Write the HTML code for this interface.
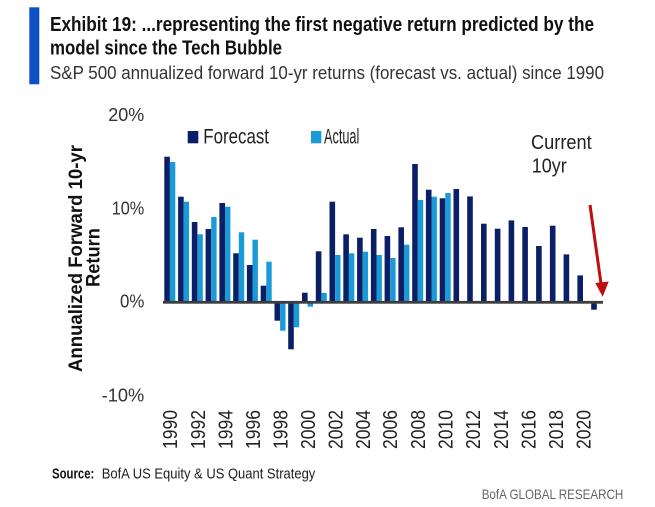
<!DOCTYPE html>
<html>
<head>
<meta charset="utf-8">
<style>
  html,body{margin:0;padding:0;background:#fff;}
  svg{display:block;}
  text{font-family:"Liberation Sans", Arial, sans-serif;}
</style>
</head>
<body>
<svg width="655" height="507" viewBox="0 0 655 507" xmlns="http://www.w3.org/2000/svg">
  <rect width="655" height="507" fill="#ffffff"/>

  <!-- Title block -->
  <rect x="29.3" y="7.3" width="10" height="77" fill="#0f4fc6"/>
  <text x="50" y="31" font-size="20" font-weight="bold" fill="#111" textLength="544" lengthAdjust="spacingAndGlyphs">Exhibit 19: ...representing the first negative return predicted by the</text>
  <text x="50" y="54.3" font-size="20" font-weight="bold" fill="#111" textLength="232" lengthAdjust="spacingAndGlyphs">model since the Tech Bubble</text>
  <text x="50" y="79" font-size="18.5" fill="#333" textLength="554" lengthAdjust="spacingAndGlyphs">S&amp;P 500 annualized forward 10-yr returns (forecast vs. actual) since 1990</text>

  <!-- Y tick labels -->
  <g font-size="18" fill="#333" text-anchor="end">
    <text x="144.3" y="121" textLength="36" lengthAdjust="spacingAndGlyphs">20%</text>
    <text x="144.3" y="214.5" textLength="32.6" lengthAdjust="spacingAndGlyphs">10%</text>
    <text x="144.3" y="307.7" textLength="24.3" lengthAdjust="spacingAndGlyphs">0%</text>
    <text x="144.3" y="401.7" textLength="42.6" lengthAdjust="spacingAndGlyphs">-10%</text>
  </g>

  <!-- Y axis title -->
  <text transform="translate(82,258.5) rotate(-90)" text-anchor="middle" font-size="19" font-weight="bold" fill="#111" textLength="227" lengthAdjust="spacingAndGlyphs">Annualized Forward 10-yr</text>
  <text transform="translate(99.5,257.5) rotate(-90)" text-anchor="middle" font-size="19" font-weight="bold" fill="#111" textLength="59" lengthAdjust="spacingAndGlyphs">Return</text>

  <!-- Legend -->
  <rect x="187.7" y="131" width="10.6" height="12.3" fill="#0b1f66"/>
  <text x="203.3" y="143.3" font-size="21" fill="#222" textLength="65.7" lengthAdjust="spacingAndGlyphs">Forecast</text>
  <rect x="311" y="131" width="10.3" height="12.3" fill="#1a9bd7"/>
  <text x="324" y="143.3" font-size="21" fill="#222" textLength="35.3" lengthAdjust="spacingAndGlyphs">Actual</text>

  <!-- Forecast bars -->
  <g fill="#0b1f66">
    <rect x="164.3" y="156.7" width="5.6" height="145.3"/>
    <rect x="178.1" y="196.7" width="5.6" height="105.3"/>
    <rect x="191.8" y="222" width="5.6" height="80"/>
    <rect x="205.6" y="229" width="5.6" height="73"/>
    <rect x="219.4" y="203" width="5.6" height="99"/>
    <rect x="233.2" y="253.3" width="5.6" height="48.7"/>
    <rect x="246.9" y="265" width="5.6" height="37"/>
    <rect x="260.7" y="285.7" width="5.6" height="16.3"/>
    <rect x="274.5" y="302" width="5.6" height="18.7"/>
    <rect x="288.2" y="302" width="5.6" height="47.3"/>
    <rect x="302" y="292.7" width="5.6" height="9.3"/>
    <rect x="315.8" y="251.3" width="5.6" height="50.7"/>
    <rect x="329.5" y="201.7" width="5.6" height="100.3"/>
    <rect x="343.3" y="234.3" width="5.6" height="67.7"/>
    <rect x="357.1" y="237.7" width="5.6" height="64.3"/>
    <rect x="370.9" y="229" width="5.6" height="73"/>
    <rect x="384.6" y="236" width="5.6" height="66"/>
    <rect x="398.4" y="227.3" width="5.6" height="74.7"/>
    <rect x="412.2" y="164" width="5.6" height="138"/>
    <rect x="425.9" y="189.7" width="5.6" height="112.3"/>
    <rect x="439.7" y="198.3" width="5.6" height="103.7"/>
    <rect x="453.5" y="189" width="5.6" height="113"/>
    <rect x="467.2" y="196.4" width="5.6" height="105.6"/>
    <rect x="481" y="223.7" width="5.6" height="78.3"/>
    <rect x="494.8" y="228.7" width="5.6" height="73.3"/>
    <rect x="508.6" y="220.4" width="5.6" height="81.6"/>
    <rect x="522.3" y="227" width="5.6" height="75"/>
    <rect x="536.1" y="246" width="5.6" height="56"/>
    <rect x="549.9" y="225.7" width="5.6" height="76.3"/>
    <rect x="563.6" y="254.4" width="5.6" height="47.6"/>
    <rect x="577.4" y="275.4" width="5.6" height="26.6"/>
    <rect x="591.2" y="302" width="5.6" height="7.7"/>
  </g>

  <!-- Actual bars -->
  <g fill="#1a9bd7">
    <rect x="169.9" y="162" width="5.4" height="140"/>
    <rect x="183.7" y="201.7" width="5.4" height="100.3"/>
    <rect x="197.4" y="234.3" width="5.4" height="67.7"/>
    <rect x="211.2" y="217" width="5.4" height="85"/>
    <rect x="225" y="206.7" width="5.4" height="95.3"/>
    <rect x="238.8" y="232.3" width="5.4" height="69.7"/>
    <rect x="252.5" y="239.7" width="5.4" height="62.3"/>
    <rect x="266.3" y="261.7" width="5.4" height="40.3"/>
    <rect x="280.1" y="302" width="5.4" height="28.7"/>
    <rect x="293.8" y="302" width="5.4" height="25.3"/>
    <rect x="307.6" y="302" width="5.4" height="4.7"/>
    <rect x="321.4" y="293" width="5.4" height="9"/>
    <rect x="335.1" y="255" width="5.4" height="47"/>
    <rect x="348.9" y="253.3" width="5.4" height="48.7"/>
    <rect x="362.7" y="251.7" width="5.4" height="50.3"/>
    <rect x="376.5" y="255" width="5.4" height="47"/>
    <rect x="390.2" y="258" width="5.4" height="44"/>
    <rect x="404" y="244.7" width="5.4" height="57.3"/>
    <rect x="417.8" y="200" width="5.4" height="102"/>
    <rect x="431.5" y="196.7" width="5.4" height="105.3"/>
    <rect x="445.3" y="193" width="5.4" height="109"/>
  </g>

  <!-- Zero line -->
  <rect x="163" y="300.9" width="440" height="2.8" fill="#3d3d3d"/>

  <!-- X labels -->
  <g font-size="20" fill="#222" text-anchor="end">
    <text transform="translate(177,410) rotate(-90)" textLength="39" lengthAdjust="spacingAndGlyphs">1990</text>
    <text transform="translate(204.8,410) rotate(-90)" textLength="39" lengthAdjust="spacingAndGlyphs">1992</text>
    <text transform="translate(232.4,410) rotate(-90)" textLength="39" lengthAdjust="spacingAndGlyphs">1994</text>
    <text transform="translate(259.9,410) rotate(-90)" textLength="39" lengthAdjust="spacingAndGlyphs">1996</text>
    <text transform="translate(287.5,410) rotate(-90)" textLength="39" lengthAdjust="spacingAndGlyphs">1998</text>
    <text transform="translate(315,410) rotate(-90)" textLength="39" lengthAdjust="spacingAndGlyphs">2000</text>
    <text transform="translate(342.5,410) rotate(-90)" textLength="39" lengthAdjust="spacingAndGlyphs">2002</text>
    <text transform="translate(370.1,410) rotate(-90)" textLength="39" lengthAdjust="spacingAndGlyphs">2004</text>
    <text transform="translate(397.2,410) rotate(-90)" textLength="39" lengthAdjust="spacingAndGlyphs">2006</text>
    <text transform="translate(425,410) rotate(-90)" textLength="39" lengthAdjust="spacingAndGlyphs">2008</text>
    <text transform="translate(452.6,410) rotate(-90)" textLength="39" lengthAdjust="spacingAndGlyphs">2010</text>
    <text transform="translate(480.2,410) rotate(-90)" textLength="39" lengthAdjust="spacingAndGlyphs">2012</text>
    <text transform="translate(507.8,410) rotate(-90)" textLength="39" lengthAdjust="spacingAndGlyphs">2014</text>
    <text transform="translate(535.3,410) rotate(-90)" textLength="39" lengthAdjust="spacingAndGlyphs">2016</text>
    <text transform="translate(562.9,410) rotate(-90)" textLength="39" lengthAdjust="spacingAndGlyphs">2018</text>
    <text transform="translate(590.5,410) rotate(-90)" textLength="39" lengthAdjust="spacingAndGlyphs">2020</text>
  </g>

  <!-- Annotation -->
  <text x="531" y="149" font-size="20" fill="#222" textLength="60.7" lengthAdjust="spacingAndGlyphs">Current</text>
  <text x="531.7" y="172.7" font-size="20" fill="#222" textLength="35" lengthAdjust="spacingAndGlyphs">10yr</text>
  <line x1="590" y1="205" x2="601.2" y2="285" stroke="#c00d0d" stroke-width="3"/>
  <polygon points="595.3,283 608.7,281.5 602.7,296.7" fill="#c00d0d"/>

  <!-- Footer -->
  <text x="52" y="478.3" font-size="14.5" font-weight="bold" fill="#111" textLength="42.3" lengthAdjust="spacingAndGlyphs">Source:</text>
  <text x="101.7" y="478.3" font-size="14.5" fill="#222" textLength="213.6" lengthAdjust="spacingAndGlyphs">BofA US Equity &amp; US Quant Strategy</text>
  <text x="481.7" y="499" font-size="14" fill="#666" textLength="141.6" lengthAdjust="spacingAndGlyphs">BofA GLOBAL RESEARCH</text>
</svg>
</body>
</html>
